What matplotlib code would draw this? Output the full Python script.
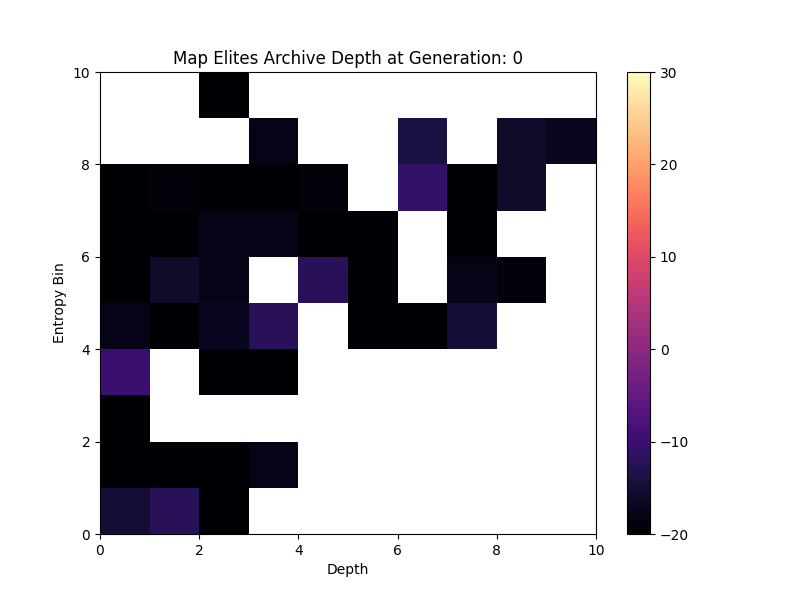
import numpy as np
import matplotlib
matplotlib.use("Agg")
import matplotlib.pyplot as plt

n = np.nan
# rows = entropy bins 0..9 (bottom to top), cols = depth bins 0..9
values = [
    [-15, -12, -20, n, n, n, n, n, n, n],
    [-20, -20, -20, -18, n, n, n, n, n, n],
    [-20, n, n, n, n, n, n, n, n, n],
    [-10, n, -20, -20, n, n, n, n, n, n],
    [-18, -20, -17, -12, n, -20, -20, -15, n, n],
    [-20, -16, -18, n, -12, -20, n, -18, -19, n],
    [-20, -20, -18, -18, -20, -20, n, -20, n, n],
    [-20, -19, -20, -20, -19, n, -11, -20, -16, n],
    [n, n, n, -18, n, n, -14, n, -16, -17],
    [n, n, -20, n, n, n, n, n, n, n],
]
data = np.array(values, dtype=float)

fig, ax = plt.subplots(figsize=(8, 6), dpi=100)
mesh = ax.pcolormesh(np.arange(11), np.arange(11), np.ma.masked_invalid(data),
                     cmap="magma", vmin=-20, vmax=30)
fig.colorbar(mesh, ax=ax)
ax.set_title("Map Elites Archive Depth at Generation: 0")
ax.set_xlabel("Depth")
ax.set_ylabel("Entropy Bin")
ax.set_xlim(0, 10)
ax.set_ylim(0, 10)
fig.savefig("out.png")
